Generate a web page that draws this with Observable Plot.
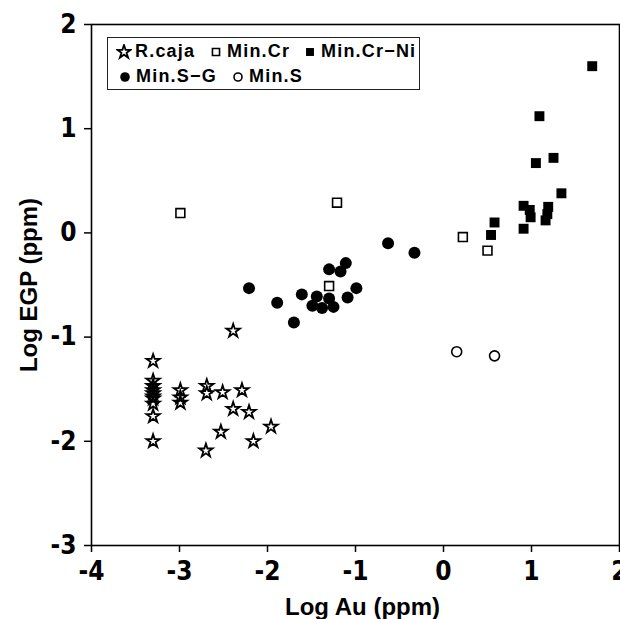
<!DOCTYPE html>
<html>
<head>
<meta charset="utf-8">
<script src="https://cdn.jsdelivr.net/npm/d3@7"></script>
<script src="https://cdn.jsdelivr.net/npm/@observablehq/plot@0.6"></script>
<style>
  html, body { margin: 0; padding: 0; background: #fff; }
  #wrap { position: relative; width: 620px; height: 619px; }
  #chart svg text { font-weight: bold; }
  #chart g[aria-label$="tick label"] text {
    font-family: "DejaVu Sans Condensed", "DejaVu Sans", sans-serif;
    font-stretch: condensed;
  }
  #legend {
    position: absolute; left: 107px; top: 37px; width: 313px; height: 53px;
    border: 1.5px solid #222; box-sizing: border-box; background: #fff;
    font-family: "Liberation Sans", Arial, sans-serif; font-weight: bold;
    font-size: 18px; letter-spacing: 1.2px; color: #000;
  }
  .item { position: absolute; display: flex; align-items: center; white-space: nowrap; }
  .item svg { margin-right: 3px; }
</style>
</head>
<body>
<div id="wrap">
  <div id="chart"></div>
  <div id="legend"></div>
</div>
<script>
// ---- data ----
const xTicks = [-4, -3, -2, -1, 0, 1, 2];
const yTicks = [-3, -2, -1, 0, 1, 2];

const rcajaX = [-3.30, -3.30, -3.30, -3.30, -3.30, -3.30, -3.30, -3.30, -3.30, -3.30,
                -2.99, -2.99, -2.99, -2.69, -2.69, -2.51, -2.29, -2.39, -2.21, -2.53,
                -1.96, -2.16, -2.70, -2.39];
const rcajaY = [-1.23, -1.42, -1.47, -1.51, -1.54, -1.57, -1.59, -1.64, -1.76, -2.00,
                -1.51, -1.58, -1.63, -1.47, -1.54, -1.53, -1.51, -1.69, -1.72, -1.91,
                -1.86, -2.00, -2.09, -0.94];

const minCrX = [-2.99, -1.21, -1.30, 0.22, 0.50];
const minCrY = [0.19, 0.29, -0.51, -0.04, -0.17];

const minCrNiX = [1.69, 1.09, 1.05, 1.25, 1.34, 0.91, 0.98, 0.99, 1.19, 1.18, 1.16, 0.91, 0.58, 0.54];
const minCrNiY = [1.60, 1.12, 0.67, 0.72, 0.38, 0.26, 0.22, 0.15, 0.25, 0.18, 0.12, 0.04, 0.10, -0.02];

const minSGX = [-0.63, -0.33, -1.11, -1.17, -1.30, -2.21, -0.99, -1.61, -1.09, -1.44, -1.30, -1.89, -1.49, -1.38, -1.25, -1.70];
const minSGY = [-0.10, -0.19, -0.29, -0.37, -0.35, -0.53, -0.53, -0.59, -0.62, -0.61, -0.63, -0.67, -0.70, -0.72, -0.71, -0.86];

const minSX = [0.15, 0.58];
const minSY = [-1.14, -1.18];

const groups = ["R.caja", "Min.Cr", "Min.Cr-Ni", "Min.S-G", "Min.S"];

// ---- build tables ----
const zip = (xs, ys) => xs.map((x, i) => ({x, y: ys[i]}));
const rcaja = zip(rcajaX, rcajaY);
const minCr = zip(minCrX, minCrY);
const minCrNi = zip(minCrNiX, minCrNiY);
const minSG = zip(minSGX, minSGY);
const minS = zip(minSX, minSY);

const styles = {
  "R.caja":    {symbol: "star",   r: 4.2, fill: "none",  stroke: "black", strokeWidth: 1.8},
  "Min.Cr":    {symbol: "square", r: 5.0, fill: "white", stroke: "black", strokeWidth: 1.6},
  "Min.Cr-Ni": {symbol: "square", r: 5.6, fill: "black", stroke: "none"},
  "Min.S-G":   {symbol: "circle", r: 6.0, fill: "black", stroke: "none"},
  "Min.S":     {symbol: "circle", r: 5.0, fill: "white", stroke: "black", strokeWidth: 1.6}
};

const fmt = d => (d < 0 ? "-" : "") + Math.abs(d);
const tickFont = "DejaVu Sans Condensed, DejaVu Sans, sans-serif";

const plot = Plot.plot({
  width: 620,
  height: 619,
  marginLeft: 91,
  marginRight: 1,
  marginTop: 24,
  marginBottom: 74,
  style: {background: "white", color: "black", fontFamily: "Liberation Sans, Arial, sans-serif"},
  x: {domain: [-4, 2]},
  y: {domain: [-3, 2]},
  marks: [
    Plot.frame({stroke: "black", strokeWidth: 1.6}),
    Plot.axisX({ticks: xTicks, tickFormat: fmt, tickSize: 7, tickPadding: 9, fontSize: 26,
                fontWeight: "bold", fontFamily: tickFont, label: null, strokeWidth: 1.5}),
    Plot.axisY({ticks: yTicks, tickFormat: fmt, tickSize: 7, tickPadding: 8, fontSize: 26,
                fontWeight: "bold", fontFamily: tickFont, label: null, strokeWidth: 1.5}),
    Plot.dot(rcaja, {x: "x", y: "y", ...styles["R.caja"]}),
    Plot.dot(minSG, {x: "x", y: "y", ...styles["Min.S-G"]}),
    Plot.dot(minCr, {x: "x", y: "y", ...styles["Min.Cr"]}),
    Plot.dot(minCrNi, {x: "x", y: "y", ...styles["Min.Cr-Ni"]}),
    Plot.dot(minS, {x: "x", y: "y", ...styles["Min.S"]}),
    Plot.text(["Log Au (ppm)"], {frameAnchor: "bottom", dy: 62, dx: 7, fontSize: 24, fontWeight: "bold",
                                 lineAnchor: "middle", textAnchor: "middle"}),
    Plot.text(["Log EGP (ppm)"], {frameAnchor: "left", dx: -62, rotate: -90, fontSize: 24, fontWeight: "bold",
                                  textAnchor: "middle", lineAnchor: "middle"})
  ]
});
document.getElementById("chart").appendChild(plot);

// ---- legend (HTML overlay) ----
const legendPos = {
  "R.caja":    {left: 8,   top: 3},
  "Min.Cr":    {left: 100, top: 3},
  "Min.Cr-Ni": {left: 194, top: 3},
  "Min.S-G":   {left: 9,   top: 28},
  "Min.S":     {left: 122, top: 28}
};
const legend = d3.select("#legend");
for (const g of groups) {
  const s = styles[g];
  const item = legend.append("div").attr("class", "item")
    .style("left", legendPos[g].left + "px").style("top", legendPos[g].top + "px");
  const sz = 16;
  const svg = item.append("svg").attr("width", sz).attr("height", sz);
  const symType = s.symbol === "star" ? d3.symbolStar : s.symbol === "square" ? d3.symbolSquare : d3.symbolCircle;
  const rr = s.symbol === "star" ? s.r : s.r * 0.8;
  svg.append("path")
    .attr("transform", `translate(${sz / 2},${sz / 2})`)
    .attr("d", d3.symbol(symType, Math.PI * rr * rr)())
    .attr("fill", s.fill === "none" ? "white" : s.fill)
    .attr("stroke", s.stroke)
    .attr("stroke-width", s.strokeWidth || 0);
  item.append("span").text(g.replace("-", "\u2212"));
}
</script>
</body>
</html>
